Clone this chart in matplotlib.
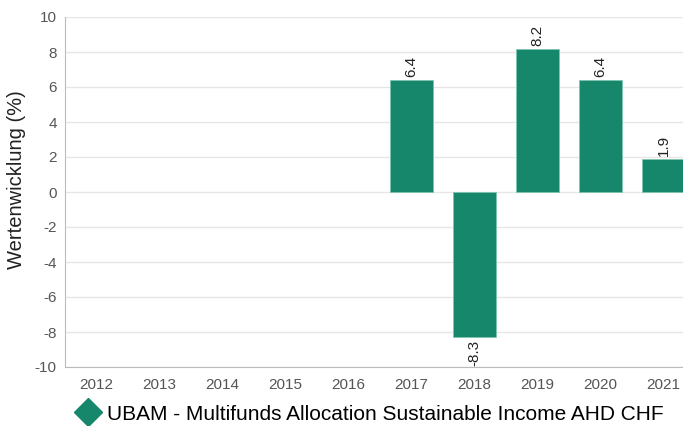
import matplotlib
matplotlib.use("Agg")
import matplotlib.pyplot as plt
from matplotlib.lines import Line2D

# --- Data ---
years = ["2012", "2013", "2014", "2015", "2016", "2017", "2018", "2019", "2020", "2021"]
values = [None, None, None, None, None, 6.4, -8.3, 8.2, 6.4, 1.9]
series_name = "UBAM - Multifunds Allocation Sustainable Income AHD CHF"

color = "#16876A"
plt.rcParams["font.family"] = ["Liberation Sans", "DejaVu Sans"]
plt.rcParams["axes.unicode_minus"] = False

fig = plt.figure(figsize=(6.83, 4.26), dpi=100)
W, H = 683, 426
ax = fig.add_axes([65 / W, (H - 367) / H, (683 - 65) / W, 350 / H])

x = list(range(len(years)))
for i, v in zip(x, values):
    if v is None:
        continue
    ax.bar(i, v, width=0.68, color=color, edgecolor="#7fc4b0", linewidth=0.6, zorder=3)
    if v >= 0:
        ax.text(i, v + 0.15, f"{v:.1f}", rotation=90, ha="center", va="bottom",
                fontsize=11, color="#222222")
    else:
        ax.text(i, v - 0.15, f"{v:.1f}", rotation=90, ha="center", va="top",
                fontsize=11, color="#222222")

ax.set_ylim(-10, 10)
ax.set_yticks(range(-10, 11, 2))
ax.set_xlim(-0.5, 9.31)
ax.set_xticks(x)
ax.set_xticklabels(years)
ax.grid(axis="y", color="#e6e6e6", linewidth=1, zorder=0)
ax.tick_params(axis="both", length=0, labelsize=11, colors="#555555", pad=8)
ax.tick_params(axis="y", pad=6)
for s in ["top", "right"]:
    ax.spines[s].set_visible(False)
for s in ["left", "bottom"]:
    ax.spines[s].set_color("#bbbbbb")

# y label placed like the reference
fig.text(17 / W, 1 - 180 / H, "Wertenwicklung (%)", rotation=90, ha="center", va="center",
         fontsize=14.5, color="#222222")

handle = Line2D([], [], marker="D", linestyle="none", markersize=14,
                markerfacecolor=color, markeredgecolor=color)
fig.legend([handle], [series_name], loc="center", bbox_to_anchor=(0.543, 12 / H),
           frameon=False, fontsize=15, handletextpad=0.4, handlelength=1.0)

fig.savefig("out.png", dpi=100)
